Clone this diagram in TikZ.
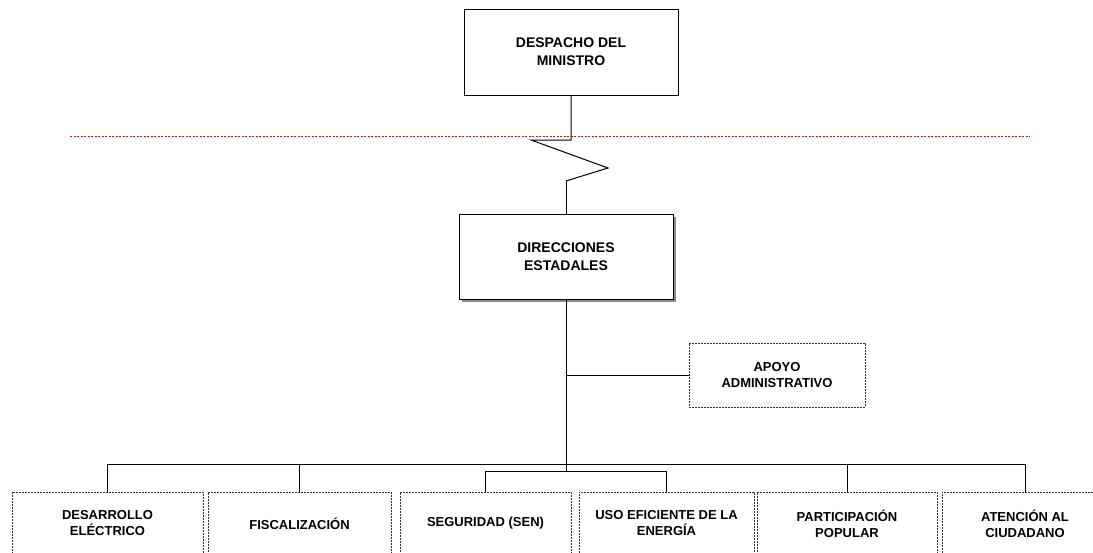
\documentclass[tikz,border=0pt]{standalone}
\usepackage{fontspec}
\setmainfont{Liberation Sans}
\usetikzlibrary{shadows}

\tikzset{
	unidad/.style={draw, line width=1pt, align=center, font=\fontsize{14}{18}\selectfont\bfseries, inner sep=2pt},
	apoyo/.style={draw=black!80, line width=0.9pt, dash pattern=on 2pt off 1pt, align=center, font=\fontsize{13}{16}\selectfont\bfseries},
	linea/.style={draw, line width=1pt}
}

\begin{document}
\begin{tikzpicture}[x=1pt, y=-1pt]
				\clip (0,0) rectangle (1093,552);
				
				% nivel superior
				\node[unidad, minimum width=214pt, minimum height=86pt] (despacho) at (571, 52) {DESPACHO DEL\\MINISTRO};
				\draw[red, line width=0.6pt, dash pattern=on 2pt off 1.5pt] (70,136) -- (1030,136);
				
				\coordinate (z1) at (531,140);
				\coordinate (z2) at (608,168);
				\coordinate (z3) at (566,181);
				\draw[linea] (despacho.south) -- (despacho.south |- z1) -- (z1) -- (z2) -- (z3);
				
				\node[unidad, fill=white, minimum width=214pt, minimum height=85pt, drop shadow={shadow xshift=3pt, shadow yshift=-3pt, fill=black!45, opacity=1}] (direcciones) at (566, 256.5) {DIRECCIONES\\ESTADALES};
				\draw[linea] (z3) -- (direcciones.north);
				
				\node[apoyo, minimum width=176pt, minimum height=64pt] (admin) at (777, 375) {APOYO\\ADMINISTRATIVO};
				
				% unidades operativas
				\node[apoyo, anchor=north, minimum width=191pt, minimum height=62pt] (d1) at (107.5, 492) {DESARROLLO\\ELÉCTRICO};
				\node[apoyo, anchor=north, minimum width=183pt, minimum height=62pt] (d2) at (299.5, 492) {FISCALIZACIÓN};
				\node[apoyo, anchor=north, minimum width=171pt, minimum height=62pt] (d3) at (485.5, 492) {SEGURIDAD (SEN)};
				\node[apoyo, anchor=north, minimum width=175pt, minimum height=62pt] (d4) at (666.5, 492) {USO EFICIENTE DE LA\\ENERGÍA};
				\node[apoyo, anchor=north, minimum width=180pt, minimum height=62pt] (d5) at (847, 492) {PARTICIPACIÓN\\POPULAR};
				\node[apoyo, anchor=north, minimum width=166pt, minimum height=62pt] (d6) at (1025, 492) {ATENCIÓN AL\\CIUDADANO};
				
				\coordinate (bus) at (566,464);
				\coordinate (sub) at (566,471);
				
				\draw[linea] (direcciones.south) -- (bus);
				\draw[linea] (direcciones.south |- admin.west) -- (admin.west);
				\draw[linea] (d1.north |- bus) -- (d6.north |- bus);
				\foreach \n in {d1,d2,d5,d6}
					\draw[linea] (\n.north |- bus) -- (\n.north);
				
				\draw[linea] (bus) -- (sub);
				\draw[linea] (d3.north) -- (d3.north |- sub) -- (d4.north |- sub) -- (d4.north);
\end{tikzpicture}
\end{document}
